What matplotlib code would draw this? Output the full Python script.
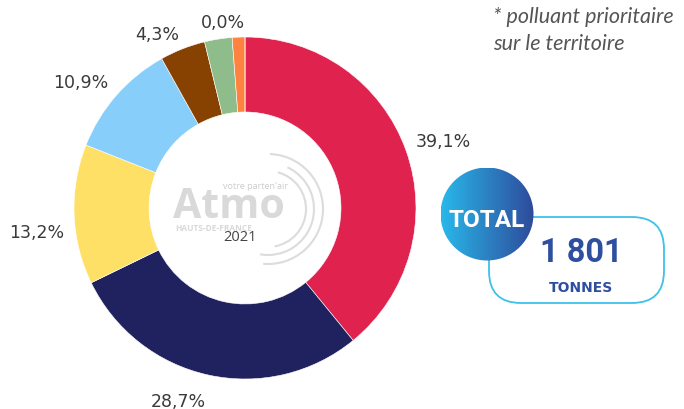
import numpy as np
import matplotlib
matplotlib.use('Agg')
import matplotlib.pyplot as plt
from matplotlib.patches import Circle, FancyBboxPatch, Arc

# Data
categories = ['cat1', 'cat2', 'cat3', 'cat4', 'cat5', 'cat6', 'cat7', 'cat8']
values     = [39.1, 28.7, 13.2, 10.9, 4.3, 2.6, 1.2, 0.0]
show_label = [True, True, True, True, True, False, False, True]
colors     = ['#E0234E', '#20215F', '#FFE066', '#87CEFA', '#874100',
              '#8FBC8B', '#FF8340', '#999999']
year       = '2021'
total_text = '1 801'
unit_text  = 'TONNES'
note_lines = ['* polluant prioritaire', 'sur le territoire']

W, H = 684, 410


def Y(py):
    return H - py


fig = plt.figure(figsize=(W / 100, H / 100), dpi=100)
ax = fig.add_axes([0, 0, 1, 1])

# Donut
cx, cy, R = 245, 209, 171
inner = 96
ax.pie(values, colors=colors, startangle=90, counterclock=False,
       center=(cx, Y(cy)), radius=R, frame=True,
       wedgeprops=dict(width=R - inner, edgecolor='white', linewidth=0.4))
ax.set_xlim(0, W)
ax.set_ylim(0, H)
ax.set_aspect('equal')
ax.axis('off')

# Percentage labels (vertical nudges mimic the label spreading of the original)
label_dy = [-6, 16, 17, -7, -5, 0, 0, -5]
cum = 0.0
for v, show, dy in zip(values, show_label, label_dy):
    mid = np.deg2rad(90 - 3.6 * (cum + v / 2))
    cum += v
    if not show:
        continue
    r = R * 1.06
    x = cx + r * np.cos(mid)
    y = Y(cy) + r * np.sin(mid) - dy
    ha = 'left' if np.cos(mid) > 0.05 else 'right'
    ax.text(x, y, f"{v:.1f}".replace('.', ',') + '%', ha=ha, va='center',
            fontsize=12.5, color='#3a3a3a', family='DejaVu Sans')

# Centre logo (light grey)
logo_c = '#d9d9d9'
ax.text(229, Y(218), 'Atmo', ha='center', va='baseline', fontsize=29.5,
        fontweight='bold', color=logo_c, family='Open Sans')
ax.text(288, Y(187), "votre parten'air", ha='right', va='center', fontsize=6.5,
        color='#cccccc', family='Open Sans')
ax.text(214, Y(229), 'HAUTS-DE-FRANCE', ha='center', va='center', fontsize=6,
        fontweight='bold', color=logo_c, family='Open Sans')
for rr, t1, t2 in [(38, -80, 75), (46, -100, 65), (55, -95, 88)]:
    ax.add_patch(Arc((268, Y(210)), 2 * rr, 2 * rr, theta1=t1, theta2=t2,
                     color='#dcdcdc', lw=1.5))
ax.text(240, Y(238), year, ha='center', va='center', fontsize=10.5,
        color='#444444', family='Open Sans')

# Note
for i, line in enumerate(note_lines):
    ax.text(493, Y(17 + 27 * i), line, ha='left', va='center', fontsize=15.5,
            style='italic', color='#555555', family='Lato')

# Total box
box = FancyBboxPatch((489, Y(304)), 175, 86,
                     boxstyle='round,pad=0,rounding_size=32',
                     facecolor='white', edgecolor='#3EC1EA', lw=1.3)
ax.add_patch(box)
ax.text(581, Y(253), total_text, ha='center', va='center', fontsize=23.5,
        fontweight='bold', color='#2E4FA0', family='Roboto')
ax.text(581, Y(288), unit_text, ha='center', va='center', fontsize=10,
        fontweight='bold', color='#2E4FA0', family='DejaVu Sans')

# Gradient circle
tcx, tcy, tr = 487, 215, 46.5
grad = np.linspace(0, 1, 256).reshape(1, -1)
cmap = matplotlib.colors.LinearSegmentedColormap.from_list(
    'tot', ['#29B8EA', '#2E4B9B'])
im = ax.imshow(grad, cmap=cmap,
               extent=(tcx - tr, tcx + tr, Y(tcy + tr), Y(tcy - tr)),
               aspect='auto', zorder=5)
im.set_clip_path(Circle((tcx, Y(tcy)), tr, transform=ax.transData))
ax.text(tcx, Y(221), 'TOTAL', ha='center', va='center', fontsize=17.5,
        fontweight='bold', color='white', family='Roboto', zorder=6)

ax.set_xlim(0, W)
ax.set_ylim(0, H)

fig.savefig('out.png', dpi=100, facecolor='white')
